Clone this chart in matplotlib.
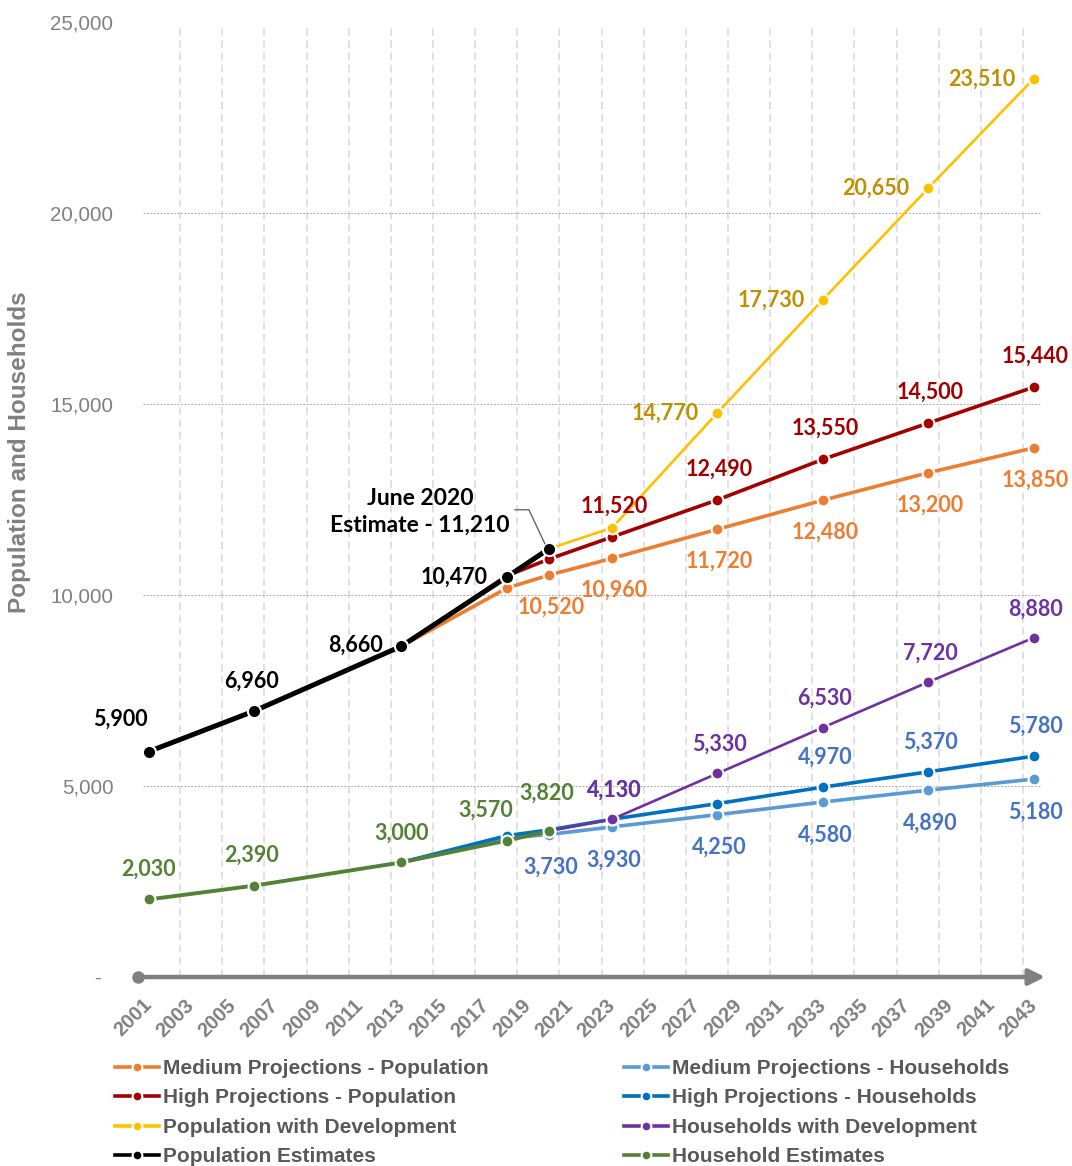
import matplotlib
matplotlib.use("Agg")
import matplotlib.pyplot as plt
from matplotlib.lines import Line2D
from matplotlib.transforms import ScaledTranslation, IdentityTransform

# ---------------------------------------------------------------- data
est_years = [2001, 2006, 2013, 2018, 2020]
proj_years = [2013, 2018, 2020, 2023, 2028, 2033, 2038, 2043]
dev_years = [2020, 2023, 2028, 2033, 2038, 2043]

pop_estimates = [5900, 6960, 8660, 10470, 11210]
hh_estimates = [2030, 2390, 3000, 3570, 3820]

pop_medium = [8660, 10180, 10520, 10960, 11720, 12480, 13200, 13850]
pop_high = [8660, 10500, 10940, 11520, 12490, 13550, 14500, 15440]
pop_dev = [11210, 11760, 14770, 17730, 20650, 23510]

hh_medium = [3000, 3640, 3730, 3930, 4250, 4580, 4890, 5180]
hh_high = [3000, 3700, 3850, 4130, 4540, 4970, 5370, 5780]
hh_dev = [3820, 4130, 5330, 6530, 7720, 8880]

tick_years = list(range(2001, 2044, 2))
y_ticks = [0, 5000, 10000, 15000, 20000, 25000]
y_tick_labels = ["-  ", "5,000", "10,000", "15,000", "20,000", "25,000"]

# ---------------------------------------------------------------- figure
DPI = 100
fig = plt.figure(figsize=(10.72, 11.66), dpi=DPI)
W, H = 1072, 1166
ax = fig.add_axes([130 / W, 1 - 977 / H, (1048 - 130) / W, (977 - 22) / H])

PX_PER_YEAR = (1023 - 138) / 42.0
x0 = 2001 - (138 - 130) / PX_PER_YEAR
x1 = 2043 + (1048 - 1023) / PX_PER_YEAR
ax.set_xlim(x0, x1)
ax.set_ylim(0, 25000)
for s in ax.spines.values():
    s.set_visible(False)

LABEL_FONT = ["Lato", "DejaVu Sans"]
AXIS_FONT = ["Liberation Sans", "DejaVu Sans"]
GREY = "#808080"

# gridlines
for yr in tick_years[1:]:
    ax.axvline(yr, ymin=0, ymax=0.9937, color="#D9D9D9", lw=1.1,
               ls=(0, (5, 3)), zorder=0)
ax.hlines([5000, 10000, 15000, 20000],
          2001 + (143 - 138) / PX_PER_YEAR, 2001 + (1040 - 138) / PX_PER_YEAR,
          color="#ABABAB", lw=0.7, ls=(0, (2, 1.5)), zorder=0)

# x axis: round start, arrow end
ax.annotate("", xy=(2001 + (1045 - 138) / PX_PER_YEAR, 0), xytext=(2001, 0),
            xycoords="data", arrowprops=dict(arrowstyle="-|>,head_length=0.6,head_width=0.3",
                                             color=GREY, lw=3.2, mutation_scale=16,
                                             shrinkA=0, shrinkB=0),
            annotation_clip=False, zorder=5)
ax.plot([2001], [0], "o", color=GREY, ms=8, clip_on=False, zorder=6)

# tick labels
ax.set_xticks([])
ax.set_yticks(y_ticks)
ax.set_yticklabels(y_tick_labels, fontsize=14.8, color=GREY, family=AXIS_FONT)
ax.tick_params(axis="y", length=0, pad=12)
xoff = ScaledTranslation(11 / DPI, -25 / DPI, fig.dpi_scale_trans)
for yr in tick_years:
    ax.text(yr, 0, str(yr), transform=ax.get_xaxis_transform() + xoff,
            rotation=45, ha="right", va="center", rotation_mode="anchor",
            fontsize=14.5, fontweight="bold", color=GREY, family=AXIS_FONT)

fig.text(20 / W, 1 - 452 / H, "Population and Households", rotation=90,
         ha="center", va="center", fontsize=17.5, fontweight="bold",
         color=GREY, family=AXIS_FONT)

# ---------------------------------------------------------------- series
def mid(years):
    return [y + 0.5 for y in years]

series = [
    # name, years, values, line colour, label colour, lw, ms, z, labels {index: (dx, dy) px}
    ("Medium Projections - Population", proj_years, pop_medium, "#ED7D31", "#ED7D31",
     2.6, 8.5, 3, {i: (2, -32) for i in range(2, 8)}),
    ("High Projections - Population", proj_years, pop_high, "#A50000", "#A00000",
     2.6, 8.5, 4, {i: (2, 31) for i in range(3, 8)}),
    ("Population with Development", dev_years, pop_dev, "#FFC000", "#BF9000",
     1.9, 8.5, 4, {i: (-52, 0) for i in range(2, 6)}),
    ("Population Estimates", est_years, pop_estimates, "#000000", "#000000",
     3.6, 9.5, 6, {0: (-28, 32), 1: (-2, 30), 2: (-46, 1), 3: (-53, 0)}),
    ("Medium Projections - Households", proj_years, hh_medium, "#5B9BD5", "#4472C4",
     2.6, 8.5, 3, {i: (2, -33) for i in range(2, 8)}),
    ("High Projections - Households", proj_years, hh_high, "#0070C0", "#4472C4",
     2.6, 8.5, 3, {3: (2, 29), 5: (2, 30), 6: (2, 30), 7: (2, 30)}),
    ("Households with Development", dev_years, hh_dev, "#7030A0", "#7030A0",
     1.9, 8.5, 4, {i: (2, 29) for i in range(1, 6)}),
    ("Household Estimates", est_years, hh_estimates, "#548235", "#548235",
     2.8, 8.5, 5, {0: (0, 30), 1: (-2, 30), 2: (0, 29), 3: (-21, 30), 4: (-2, 38)}),
]

handles = []
for name, yrs, vals, col, lcol, lw, ms, z, labels in series:
    ax.plot(mid(yrs), vals, color=col, lw=lw, marker="o", ms=ms,
            mec="white", mew=1.5, zorder=z, solid_capstyle="round")
    for i, (dx, dy) in labels.items():
        ax.annotate(f"{vals[i]:,}", (mid(yrs)[i], vals[i]),
                    xytext=(dx * 72 / DPI, dy * 72 / DPI), textcoords="offset points",
                    ha="center", va="center", fontsize=15.5, fontweight="bold",
                    color=lcol, family=LABEL_FONT, zorder=8)
    handles.append(Line2D([], [], color=col, lw=2.6, marker="o", ms=7,
                          mec="white", mew=1.5, label=name))

# June 2020 estimate callout
px, py = ax.transData.transform((est_years[-1] + 0.5, pop_estimates[-1]))
lx = [px - 34, px - 20, px - 4]
ly = [py + 39, py + 39, py + 5]
ax.add_line(Line2D(lx, ly, transform=IdentityTransform(), color="#595959",
                   lw=0.9, zorder=7))
ax.annotate(f"June 2020\nEstimate - {pop_estimates[-1]:,}",
            (est_years[-1] + 0.5, pop_estimates[-1]),
            xytext=(-129 * 72 / DPI, 37 * 72 / DPI), textcoords="offset points",
            ha="center", va="center", multialignment="center", linespacing=1.35,
            fontsize=16.5, fontweight="bold", color="#000000", family=LABEL_FONT,
            zorder=8)

# ---------------------------------------------------------------- legend
leg = fig.legend(handles=handles, loc="upper left", ncol=2,
                 bbox_to_anchor=(115 / W, 1 - 1059 / H), frameon=False,
                 borderpad=0, borderaxespad=0, handlelength=2.1,
                 handletextpad=0.2, columnspacing=6.5, labelspacing=0.5,
                 prop=dict(family=AXIS_FONT, weight="bold", size=15))
for t in leg.get_texts():
    t.set_color("#595959")

fig.savefig("out.png", dpi=DPI)
